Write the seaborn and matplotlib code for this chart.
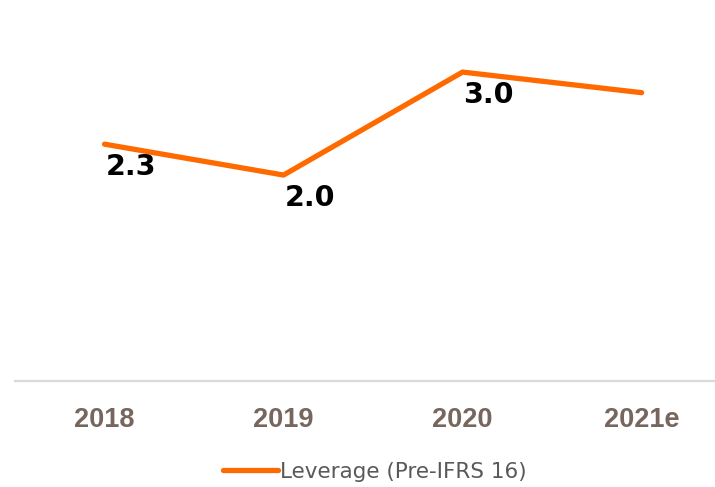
import matplotlib
matplotlib.use("Agg")
import matplotlib.pyplot as plt
import seaborn as sns
import pandas as pd

# data
years = ["2018", "2019", "2020", "2021e"]
leverage = [2.3, 2.0, 3.0, 2.8]
labelled = [True, True, True, False]
series_name = "Leverage (Pre-IFRS 16)"

line_color = "#ff6a00"
tick_color = "#76665e"

sns.set_style("white")
plt.rcParams["font.family"] = ["DejaVu Sans"]

df = pd.DataFrame({"year": years, "leverage": leverage, "series": series_name})

fig = plt.figure(figsize=(7.15, 4.87), dpi=100)
ax = fig.add_axes([15 / 715, 106 / 487, 700 / 715, 381 / 487])

sns.lineplot(data=df, x="year", y="leverage", hue="series", palette=[line_color],
             linewidth=3.8, ax=ax, legend=False, sort=False)
line = ax.lines[0]
line.set_solid_capstyle("round")
line.set_solid_joinstyle("round")

for i, (v, show) in enumerate(zip(leverage, labelled)):
    if show:
        ax.annotate(f"{v:.1f}", (i, v), xytext=(26, -23), textcoords="offset pixels",
                    ha="center", va="center", fontsize=20.5, fontweight="bold", color="black")

ax.set_xlim(-0.5, 3.41)
ax.set_ylim(0, 3.7)
ax.set_yticks([])
ax.set_xlabel("")
ax.set_ylabel("")
for side in ["top", "right", "left"]:
    ax.spines[side].set_visible(False)
ax.spines["bottom"].set_color("#d9d9d9")
ax.spines["bottom"].set_linewidth(1.6)
ax.tick_params(axis="x", length=0, pad=19, labelsize=19.5, labelcolor=tick_color)
for lbl in ax.get_xticklabels():
    lbl.set_fontweight("bold")
    lbl.set_family(["Liberation Sans", "DejaVu Sans"])

handle = plt.Line2D([], [], color=line_color, linewidth=3.8, solid_capstyle="round")
fig.legend([handle], [series_name], loc="center", bbox_to_anchor=(375 / 715, 1 - 472 / 487),
           frameon=False, fontsize=15.5, handlelength=2.55, handletextpad=0.1,
           labelcolor="#595959")

fig.savefig("out.png", dpi=100)
plt.close()
